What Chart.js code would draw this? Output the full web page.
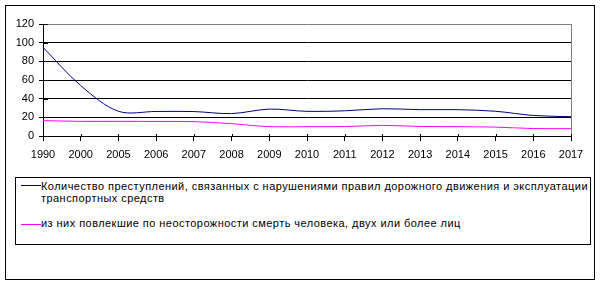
<!DOCTYPE html>
<html><head><meta charset="utf-8">
<script src="https://cdn.jsdelivr.net/npm/chart.js@4.4.0/dist/chart.umd.min.js"></script>
<style>
html,body{margin:0;padding:0;background:#fff;}
#wrap{position:relative;width:601px;height:286px;overflow:hidden;font-family:"Liberation Sans",Arial,sans-serif;}
#c{position:absolute;left:0;top:0;}
#frame{position:absolute;left:5px;top:5px;width:590px;height:275px;box-sizing:border-box;border:1px solid #000;pointer-events:none;}
#legend{position:absolute;left:15px;top:177px;width:576px;height:68px;box-sizing:border-box;border:1px solid #000;background:#fff;}
.sw{position:absolute;left:5px;width:20px;height:1px;}
.tx{position:absolute;left:25px;font-size:11px;line-height:12px;letter-spacing:0.45px;white-space:nowrap;color:#000;}
</style></head>
<body>
<div id="wrap">
<canvas id="c" width="601" height="286"></canvas>
<div id="frame"></div>
<div id="legend"></div>
</div>
<script>
const years = ['1990','2000','2005','2006','2007','2008','2009','2010','2011','2012','2013','2014','2015','2016','2017'];
const crimesTotal = [95, 54, 26.5, 26.3, 26.2, 24, 28.8, 26.4, 27, 29.2, 28.2, 28.2, 26.5, 22, 20.7];
const crimesFatal = [16.5, 15.7, 15.7, 15.6, 15.4, 13.2, 10, 10, 10.1, 11.4, 10.2, 10, 9.5, 8, 7.9];
const seriesNames = [
  'Количество преступлений, связанных с нарушениями правил дорожного движения и эксплуатации транспортных средств',
  'из них повлекшие по неосторожности смерть человека, двух или более лиц'
];
const seriesColors = ['#000080', '#FF00FF'];
const legendLines = [
  ['Количество преступлений, связанных с нарушениями правил дорожного движения и эксплуатации', 'транспортных средств'],
  ['из них повлекшие по неосторожности смерть человека, двух или более лиц']
];

// HTML legend
const lg = document.getElementById('legend');
const legendTops = [2, 39];
const swatchTops = [7, 46];
legendLines.forEach((lines, i) => {
  const sw = document.createElement('div');
  sw.className = 'sw';
  sw.style.top = swatchTops[i] + 'px';
  sw.style.background = seriesColors[i];
  lg.appendChild(sw);
  const tx = document.createElement('div');
  tx.className = 'tx';
  tx.style.top = legendTops[i] + 'px';
  lines.forEach((l, k) => {
    if (k) tx.appendChild(document.createElement('br'));
    tx.appendChild(document.createTextNode(l));
  });
  lg.appendChild(tx);
});

Chart.defaults.font.family = '"Liberation Sans", Arial, sans-serif';
Chart.defaults.font.size = 11;
Chart.defaults.color = '#000';

const crossTicks = {
  id: 'crossTicks',
  afterDraw(chart) {
    const {ctx, chartArea: a, scales: {x, y}} = chart;
    ctx.save();
    ctx.strokeStyle = '#000';
    ctx.lineWidth = 1;
    ctx.beginPath();
    x.ticks.forEach((t, i) => {
      const px = Math.round(x.getPixelForTick(i)) + 0.5;
      ctx.moveTo(px, a.bottom - 2);
      ctx.lineTo(px, a.bottom + 0.5);
    });
    y.ticks.forEach((t, i) => {
      const py = Math.round(y.getPixelForTick(i)) + 0.5;
      ctx.moveTo(a.left, py);
      ctx.lineTo(a.left + 5, py);
    });
    ctx.stroke();
    ctx.restore();
  }
};

new Chart(document.getElementById('c'), {
  type: 'line',
  data: {
    labels: years,
    datasets: [
      {label: seriesNames[0], data: crimesTotal, borderColor: seriesColors[0], borderWidth: 1, pointRadius: 0, tension: 0.33, fill: false},
      {label: seriesNames[1], data: crimesFatal, borderColor: seriesColors[1], borderWidth: 1, pointRadius: 0, tension: 0.33, fill: false}
    ]
  },
  options: {
    responsive: false,
    animation: false,
    devicePixelRatio: 1,
    layout: {padding: {left: 0, top: 24, right: 30, bottom: 120}},
    plugins: {legend: {display: false}, tooltip: {enabled: false}},
    scales: {
      x: {
        offset: false,
        grid: {color: c => c.index === years.length - 1 ? '#808080' : 'rgba(0,0,0,0)', tickColor: '#000', tickLength: 5},
        border: {color: '#000', width: 1},
        ticks: {color: '#000', padding: 7, maxRotation: 0, autoSkip: false},
        afterFit: s => { s.height = 30; }
      },
      y: {
        min: 0, max: 120,
        grid: {color: c => c.tick.value === 120 ? '#808080' : '#000', tickColor: '#000', tickLength: 4},
        border: {color: '#000', width: 1},
        ticks: {stepSize: 20, color: '#000', padding: 5},
        afterFit: s => { s.width = 43; }
      }
    }
  },
  plugins: [crossTicks]
});
</script>
</body></html>
